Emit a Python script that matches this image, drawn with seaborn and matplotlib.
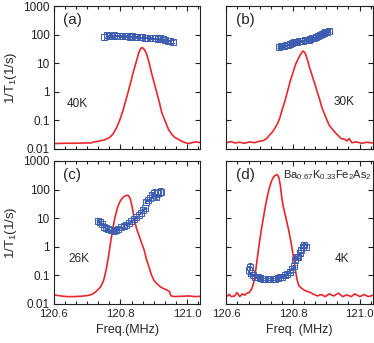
import numpy as np
import pandas as pd
import matplotlib
matplotlib.use("Agg")
import matplotlib.pyplot as plt
import seaborn as sns
from matplotlib.ticker import FixedLocator, MultipleLocator, FixedFormatter

# ---- data ----
# (a) 40K
spec_a_f = [120.600, 120.630, 120.661, 120.691, 120.711, 120.721, 120.737, 120.752, 120.767,
            120.777, 120.787, 120.797, 120.807, 120.817, 120.828, 120.838, 120.848, 120.855,
            120.861, 120.866, 120.871, 120.878, 120.886, 120.893, 120.901, 120.909, 120.917,
            120.924, 120.934, 120.944, 120.954, 120.964, 120.974, 120.982, 120.994, 121.005,
            121.015, 121.025, 121.042]
spec_a_i = [0.0154, 0.0158, 0.0158, 0.0162, 0.0162, 0.0176, 0.019, 0.0207, 0.0249,
            0.0326, 0.0514, 0.095, 0.213, 0.546, 1.60, 4.67, 11.9, 23.3,
            33.1, 34.9, 30.5, 22.1, 10.4, 4.67, 2.09, 0.93, 0.417,
            0.186, 0.095, 0.0488, 0.0326, 0.0249, 0.0218, 0.019, 0.0166, 0.0154,
            0.0166, 0.0176, 0.0166]
t1_a_f = [120.752, 120.760, 120.767, 120.775, 120.782, 120.790, 120.798, 120.805, 120.813,
          120.820, 120.828, 120.836, 120.843, 120.851, 120.858, 120.866, 120.874, 120.881,
          120.889, 120.896, 120.904, 120.912, 120.919, 120.927, 120.934, 120.942, 120.950,
          120.958]
t1_a = [82, 100, 92, 90, 93, 91, 89, 88, 87, 89, 85, 86, 84, 82, 80, 81, 79, 77,
        76, 74, 73, 71, 74, 68, 64, 62, 58, 56]
err_a = [0.25, 0.12, 0.08, 0.06, 0.06, 0.06, 0.06, 0.05, 0.05, 0.05, 0.05, 0.05, 0.05, 0.05,
         0.05, 0.05, 0.05, 0.05, 0.05, 0.05, 0.05, 0.06, 0.06, 0.07, 0.08, 0.08, 0.1, 0.12]

# (b) 30K
spec_b_f = [120.600, 120.615, 120.625, 120.640, 120.655, 120.669, 120.684, 120.699, 120.711,
            120.721, 120.729, 120.737, 120.745, 120.754, 120.761, 120.768, 120.776, 120.784,
            120.792, 120.800, 120.808, 120.816, 120.823, 120.830, 120.836, 120.843, 120.850,
            120.858, 120.866, 120.873, 120.880, 120.887, 120.895, 120.902, 120.909, 120.917,
            120.925, 120.935, 120.945, 120.955, 120.962, 120.969, 120.977, 120.991, 121.006,
            121.021, 121.041]
spec_b_i = [0.0166, 0.0180, 0.0162, 0.0171, 0.0158, 0.0176, 0.0166, 0.0185, 0.0196,
            0.0230, 0.0300, 0.0372, 0.0514, 0.0789, 0.125, 0.244, 0.477, 1.07,
            2.39, 4.67, 9.12, 14.4, 20.4, 26.7, 23.3, 13.7, 6.98,
            3.57, 1.82, 0.98, 0.546, 0.279, 0.163, 0.103, 0.0673, 0.0514,
            0.0393, 0.0300, 0.0230, 0.0218, 0.0190, 0.0230, 0.0166, 0.0176, 0.0158,
            0.0171, 0.0162]
t1_b_f = [120.757, 120.763, 120.768, 120.774, 120.780, 120.785, 120.791, 120.796, 120.802,
          120.808, 120.813, 120.819, 120.824, 120.830, 120.836, 120.841, 120.847, 120.852,
          120.858, 120.864, 120.869, 120.875, 120.880, 120.886, 120.892, 120.897, 120.903,
          120.909]
t1_b = [37, 40, 39, 41, 42, 45, 48, 50, 53, 54, 56, 58, 59, 61, 63, 64, 67, 70,
        74, 76, 83, 88, 94, 102, 112, 122, 128, 136]
err_b = [0.1, 0.08, 0.08, 0.08, 0.07, 0.07, 0.07, 0.07, 0.07, 0.07, 0.07, 0.07, 0.07, 0.07,
         0.07, 0.07, 0.07, 0.07, 0.07, 0.07, 0.08, 0.08, 0.08, 0.09, 0.1, 0.1, 0.12, 0.12]

# (c) 26K
spec_c_f = [120.600, 120.620, 120.640, 120.661, 120.681, 120.701, 120.713, 120.723, 120.734,
            120.742, 120.750, 120.757, 120.764, 120.770, 120.777, 120.784, 120.792, 120.800,
            120.808, 120.816, 120.823, 120.829, 120.835, 120.841, 120.848, 120.855, 120.863,
            120.871, 120.878, 120.886, 120.893, 120.901, 120.910, 120.919, 120.929, 120.939,
            120.947, 120.952, 120.964, 120.984, 121.005, 121.025, 121.042]
spec_c_i = [0.0207, 0.0190, 0.0180, 0.0180, 0.0185, 0.0196, 0.0212, 0.0249, 0.0326,
            0.0426, 0.069, 0.155, 0.452, 1.32, 4.42, 11.3, 25.3, 41.0,
            53.7, 61.4, 63.1, 49.5, 25.3, 9.89, 4.42, 2.59, 1.39,
            0.773, 0.365, 0.191, 0.103, 0.0655, 0.050, 0.0403, 0.0343, 0.0309,
            0.0270, 0.0190, 0.0180, 0.0185, 0.0190, 0.0180, 0.0185]
t1_c_f = [120.734, 120.740, 120.745, 120.750, 120.757, 120.764, 120.772, 120.780, 120.787,
          120.794, 120.802, 120.810, 120.817, 120.825, 120.833, 120.841, 120.848, 120.855,
          120.861, 120.868, 120.873, 120.877, 120.883, 120.890, 120.895, 120.900, 120.906,
          120.913, 120.918, 120.922]
t1_c = [7.98, 7.56, 6.27, 5.06, 4.42, 4.08, 3.77, 3.67, 3.87, 4.19, 4.79, 5.34, 5.94, 6.62,
        7.77, 9.12, 10.7, 12.9, 15.6, 19.4, 22.1, 37.8, 43.3, 49.5, 64.8, 78.2, 56.6,
        74.0, 82.4, 84.7]
err_c = [0.1, 0.08, 0.07, 0.06, 0.05, 0.05, 0.05, 0.05, 0.05, 0.05, 0.05, 0.05, 0.05, 0.05,
         0.05, 0.05, 0.05, 0.05, 0.05, 0.06, 0.06, 0.1, 0.12, 0.15, 0.2, 0.3, 0.25,
         0.3, 0.35, 0.3]

# (d) 4K
spec_d_f = [120.600, 120.608, 120.615, 120.625, 120.632, 120.640, 120.648, 120.655, 120.661,
            120.669, 120.677, 120.683, 120.687, 120.691, 120.695, 120.699, 120.705, 120.711,
            120.717, 120.723, 120.729, 120.735, 120.741, 120.747, 120.752, 120.757, 120.762,
            120.766, 120.771, 120.778, 120.786, 120.793, 120.798, 120.803, 120.808, 120.813,
            120.818, 120.826, 120.836, 120.848, 120.860, 120.873, 120.885, 120.897, 120.909,
            120.922, 120.937, 120.949, 120.962, 120.975, 120.986, 121.001, 121.014, 121.026,
            121.041]
spec_d_i = [0.0180, 0.0212, 0.0180, 0.0190, 0.0249, 0.0180, 0.0224, 0.0201, 0.0236,
            0.0249, 0.0353, 0.0604, 0.118, 0.264, 0.591, 1.32, 3.87, 9.89,
            25.3, 56.6, 111, 189, 268, 315, 333, 283, 145,
            56.6, 25.3, 11.3, 4.42, 1.73, 0.773, 0.345, 0.135, 0.0655,
            0.0426, 0.0353, 0.0292, 0.0263, 0.0224, 0.0190, 0.0212, 0.0180, 0.0224,
            0.0190, 0.0236, 0.0180, 0.0207, 0.0180, 0.0224, 0.0180, 0.0212, 0.0180,
            0.0201]
t1_d_f = [120.669, 120.672, 120.674, 120.679, 120.686, 120.694, 120.701, 120.709, 120.717,
          120.724, 120.731, 120.739, 120.747, 120.754, 120.761, 120.768, 120.776, 120.783,
          120.790, 120.796, 120.802, 120.807, 120.811, 120.816, 120.820, 120.825, 120.830,
          120.834, 120.838]
t1_d = [0.155, 0.20, 0.118, 0.103, 0.090, 0.0855, 0.081, 0.0769, 0.0748, 0.0728, 0.0728,
        0.0748, 0.0769, 0.081, 0.0855, 0.090, 0.100, 0.112, 0.135, 0.163, 0.213, 0.345,
        0.428, 0.452, 0.591, 0.773, 0.957, 1.16, 0.957]
err_d = [0.35, 0.3, 0.15, 0.1, 0.08, 0.08, 0.08, 0.08, 0.08, 0.08, 0.08, 0.08, 0.08, 0.08,
         0.08, 0.08, 0.08, 0.08, 0.1, 0.1, 0.12, 0.15, 0.15, 0.15, 0.15, 0.2, 0.2, 0.2, 0.2]

panel_tags = ["(a)", "(b)", "(c)", "(d)"]
temps = ["40K", "30K", "26K", "4K"]
temp_pos = [(0.09, 0.315), (0.73, 0.33), (0.10, 0.315), (0.74, 0.315)]
sample = "Ba$_{0.67}$K$_{0.33}$Fe$_2$As$_2$"
xticks = [120.6, 120.8, 121.0]
xtick_labels = ["120.6", "120.8", "121.0"]
yticks = [0.01, 0.1, 1, 10, 100, 1000]
ytick_labels = ["0.01", "0.1", "1", "10", "100", "1000"]

spectra = [(spec_a_f, spec_a_i), (spec_b_f, spec_b_i), (spec_c_f, spec_c_i), (spec_d_f, spec_d_i)]
rates = [(t1_a_f, t1_a, err_a), (t1_b_f, t1_b, err_b), (t1_c_f, t1_c, err_c), (t1_d_f, t1_d, err_d)]

RED = "#e8262d"
BLUE = "#3b5cb0"

sns.set_style("ticks")
plt.rcParams['font.family'] = ['Liberation Sans', 'DejaVu Sans']
plt.rcParams['mathtext.default'] = 'regular'

fig, axes = plt.subplots(2, 2, figsize=(3.74, 3.43), dpi=100)
fig.subplots_adjust(left=0.144, right=0.997, bottom=0.114, top=0.9825, wspace=0.177, hspace=0.084)

for i, ax in enumerate(axes.flat):
    f, inten = spectra[i]
    df = pd.DataFrame({"f": f, "I": inten})
    sns.lineplot(data=df, x="f", y="I", ax=ax, color=RED, lw=1.2, sort=False, estimator=None)

    tf, tv, te = rates[i]
    tv = np.array(tv, dtype=float)
    te = np.array(te, dtype=float)
    ax.errorbar(tf, tv, yerr=[tv * te / (1 + te), tv * te], fmt="s", ms=3.8, mfc="none",
                mec=BLUE, mew=0.7, ecolor=BLUE, elinewidth=0.7, capsize=1.5, capthick=0.7)

    ax.set_yscale("log")
    ax.set_ylim(0.01, 1000)
    ax.set_xlim(120.6, 121.04)
    ax.yaxis.set_major_locator(FixedLocator(yticks))
    ax.yaxis.set_minor_locator(FixedLocator([]))
    ax.yaxis.set_major_formatter(FixedFormatter(ytick_labels))
    ax.set_xticks(xticks)
    ax.xaxis.set_minor_locator(MultipleLocator(0.1 / 3))
    ax.tick_params(which="both", direction="in", top=True, right=True, width=0.8, colors="#222222")
    ax.tick_params(which="major", length=3.5)
    ax.tick_params(which="minor", length=2)
    ax.tick_params(axis="y", labelsize=8.5, pad=3)
    ax.tick_params(axis="x", labelsize=8.2, pad=4)
    for s in ax.spines.values():
        s.set_linewidth(0.8)
        s.set_color("#222222")
    ax.set_xlabel("")
    ax.set_ylabel("")

    ax.text(0.065, 0.90, panel_tags[i], transform=ax.transAxes, fontsize=11, va="center")
    ax.text(temp_pos[i][0], temp_pos[i][1], temps[i], transform=ax.transAxes, fontsize=8.5, va="center")

    if i < 2:
        ax.tick_params(axis="x", labelbottom=False)
    else:
        ax.set_xticklabels(xtick_labels)
    if i % 2 == 1:
        ax.tick_params(axis="y", labelleft=False)
    else:
        ax.set_ylabel("1/T$_1$(1/s)", fontsize=9.5, labelpad=3)

axes[1, 1].text(0.39, 0.90, sample, transform=axes[1, 1].transAxes, fontsize=8, va="center")
axes[1, 0].set_xlabel("Freq.(MHz)", fontsize=9, labelpad=3)
axes[1, 1].set_xlabel("Freq. (MHz)", fontsize=9, labelpad=3)

plt.savefig("out.png", dpi=100)
plt.close()
